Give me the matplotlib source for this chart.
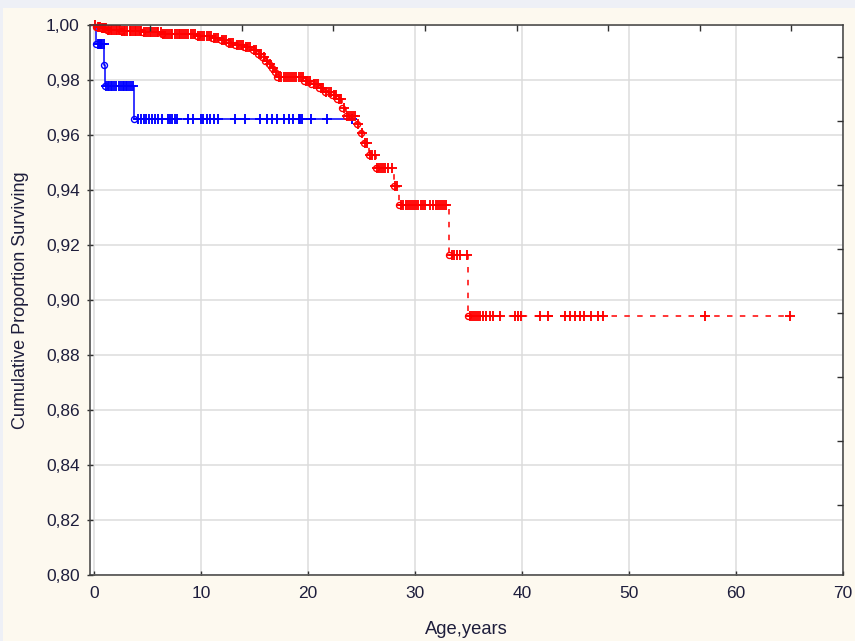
import matplotlib
matplotlib.use("Agg")
import matplotlib.pyplot as plt
from matplotlib.patches import Rectangle
from matplotlib.ticker import FixedLocator, FuncFormatter

plt.rcParams['font.family'] = ['Liberation Sans', 'DejaVu Sans']

# ---------------- data ----------------
# Group 1 (red): failure times and survival after each failure
red_fail_t = [0.2, 0.6, 1.2, 2.5, 4.5, 6.3, 9.6, 11.0, 11.8, 12.5, 13.2, 14.0, 14.8,
              15.3, 15.7, 16.0, 16.3, 16.6, 16.9, 17.1, 19.6, 20.3, 21.0, 21.6, 22.2,
              22.7, 23.2, 23.5, 24.6, 24.9, 25.2, 25.7, 26.3, 28.0, 28.5, 33.2, 34.9]
red_fail_s = [0.9994, 0.9988, 0.9983, 0.9978, 0.9973, 0.9966, 0.9959, 0.9952, 0.9944,
              0.9936, 0.9928, 0.9919, 0.9908, 0.9896, 0.9883, 0.9870, 0.9857, 0.9844,
              0.9830, 0.9810, 0.9797, 0.9784, 0.9771, 0.9758, 0.9745, 0.9732, 0.9700,
              0.9670, 0.9640, 0.9607, 0.9570, 0.9527, 0.9480, 0.9415, 0.9345, 0.9165,
              0.8942]
red_cens_t = [0.1, 0.3, 0.4, 0.5, 0.7, 0.8, 0.9, 1.0, 1.1, 1.3, 1.4, 1.6, 1.7, 1.8, 2.0,
              2.1, 2.3, 2.4, 2.6, 2.8, 2.9, 3.1, 3.3, 3.4, 3.6, 3.8, 3.9, 4.1, 4.3, 4.4,
              4.6, 4.8, 5.0, 5.2, 5.3, 5.5, 5.7, 5.9, 6.0, 6.2, 6.4, 6.6, 6.8, 7.0, 7.2,
              7.3, 7.5, 7.7, 7.9, 8.0, 8.2, 8.4, 8.6, 8.8, 9.0, 9.2, 9.4, 9.7, 9.9, 10.1,
              10.3, 10.5, 10.7, 10.9, 11.2, 11.4, 11.6, 11.9, 12.1, 12.3, 12.6, 12.8,
              13.0, 13.3, 13.5, 13.7, 13.9, 14.2, 14.4, 14.6, 14.9, 15.1, 15.4, 15.6,
              15.9, 16.1, 16.4, 16.7, 17.0, 17.3, 17.5, 17.7, 17.9, 18.1, 18.3, 18.5,
              18.7, 18.9, 19.1, 19.3, 19.5, 19.8, 20.0, 20.2, 20.5, 20.7, 20.9, 21.2,
              21.4, 21.7, 21.9, 22.1, 22.4, 22.6, 22.9, 23.1, 23.3, 23.6, 23.8, 24.0,
              24.2, 24.4, 24.7, 25.0, 25.3, 25.5, 25.8, 26.0, 26.2, 26.4, 26.6, 26.8,
              27.0, 27.2, 27.5, 27.8, 28.1, 28.3, 28.7, 28.9, 29.1, 29.3, 29.5, 29.7,
              29.9, 30.1, 30.3, 30.5, 30.7, 30.9, 31.4, 31.7, 31.9, 32.1, 32.3, 32.5,
              32.7, 32.9, 33.4, 33.6, 33.9, 34.2, 34.85, 35.1, 35.3, 35.5, 35.7, 35.9,
              36.1, 36.3, 36.6, 37.0, 37.3, 37.9, 39.3, 39.6, 39.9, 41.7, 42.4, 44.0,
              44.5, 44.9, 45.4, 45.8, 46.4, 47.1, 47.6, 57.1, 65.0]

# Group 2 (blue)
blue_fail_t = [0.2, 0.95, 1.0, 3.75]
blue_fail_s = [0.993, 0.9855, 0.9778, 0.966]
blue_cens_t = [0.3, 0.4, 0.5, 0.6, 0.7, 0.9, 1.1, 1.25, 1.4, 1.55, 1.7, 1.85, 2.0,
               2.35, 2.5, 2.65, 2.8, 2.95, 3.1, 3.25, 3.4, 3.65, 4.1, 4.4, 4.6, 4.85,
               5.1, 5.4, 5.7, 6.0, 6.3, 6.9, 7.1, 7.3, 7.5, 7.7, 8.8, 9.2, 10.0, 10.2,
               10.5, 10.8, 11.15, 11.6, 13.2, 14.1, 15.5, 16.1, 16.6, 17.1, 17.7, 18.2,
               18.6, 19.1, 19.25, 19.4, 20.3, 21.8, 24.1]

x_ticks = [0, 10, 20, 30, 40, 50, 60, 70]
y_ticks = [0.80, 0.82, 0.84, 0.86, 0.88, 0.90, 0.92, 0.94, 0.96, 0.98, 1.00]

RED = '#ff0000'
BLUE = '#0000ff'
TXT = '#1e1e3c'


def km_value(fail_t, fail_s, t):
    s = 1.0
    for ft, fs in zip(fail_t, fail_s):
        if ft <= t:
            s = fs
    return s


def draw_curve(ax, fail_t, fail_s, cens_t, color, ls, z):
    t_end = max(cens_t[-1], fail_t[-1])
    ts = [0.0] + list(fail_t) + [t_end]
    ss = [1.0] + list(fail_s) + [fail_s[-1]]
    line, = ax.plot(ts, ss, drawstyle='steps-post', color=color, lw=1.1,
                    zorder=z, clip_on=False)
    if ls == 'dash':
        line.set_dashes([3.6, 4.8])
    cs = [km_value(fail_t, fail_s, t) for t in cens_t]
    ax.plot(cens_t, cs, linestyle='none', marker='+', ms=7.5, mew=1.35,
            color=color, zorder=z + 0.1, clip_on=False)
    ax.plot(fail_t, fail_s, linestyle='none', marker='o', ms=4.3, mew=1.0,
            mfc='none', mec=color, zorder=z + 0.1, clip_on=False)


fig = plt.figure(figsize=(8.55, 6.41), dpi=100, facecolor='#fdf9ef')
fig.patches.append(Rectangle((0, 1 - 8 / 641), 1, 8 / 641, transform=fig.transFigure,
                             facecolor='#eef0f6', edgecolor='none', zorder=-5))
fig.patches.append(Rectangle((0, 0), 3 / 855, 1, transform=fig.transFigure,
                             facecolor='#eef0f6', edgecolor='none', zorder=-5))

ax = fig.add_axes([89.5 / 855, 1 - 575 / 641, 753.5 / 855, 550 / 641])
ax.set_facecolor('white')
ax.set_xlim(-0.45, 70)
ax.set_ylim(0.80, 1.00)

ax.xaxis.set_major_locator(FixedLocator(x_ticks))
ax.yaxis.set_major_locator(FixedLocator(y_ticks))
ax.yaxis.set_major_formatter(FuncFormatter(lambda v, p: f"{v:.2f}".replace('.', ',')))
ax.xaxis.set_major_formatter(FuncFormatter(lambda v, p: f"{v:.0f}"))
ax.grid(True, color='#dcdcdc', lw=1.1, zorder=0)
ax.set_axisbelow(True)

ax.tick_params(axis='x', direction='in', length=3, width=1.0, color='#303030',
               labelsize=12.5, labelcolor=TXT, pad=8)
ax.tick_params(axis='y', direction='inout', length=4, width=1.0, color='#303030',
               labelsize=12.5, labelcolor=TXT, pad=5)
for sp in ax.spines.values():
    sp.set_color('#404040')
    sp.set_linewidth(1.1)
    sp.set_zorder(5)

draw_curve(ax, blue_fail_t, blue_fail_s, blue_cens_t, BLUE, 'solid', 3)
draw_curve(ax, red_fail_t, red_fail_s, red_cens_t, RED, 'dash', 4)

# secondary (unlabelled) ticks on top and right edges
axt = ax.twiny()
axt.set_xlim(0, 1)
axt.set_xticks([0.0803 + k * 0.1216 for k in range(8)])
axt.tick_params(axis='x', direction='in', length=4, width=1.0, color='#303030',
                labeltop=False)
axr = ax.twinx()
axr.set_ylim(0, 1)
axr.set_yticks([0.9415 - k * 0.1164 for k in range(8)])
axr.tick_params(axis='y', direction='in', length=4, width=1.0, color='#303030',
                labelright=False)
for a in (axt, axr):
    for sp in a.spines.values():
        sp.set_visible(False)

fig.text(21 / 855, (641 - 300) / 641, 'Cumulative Proportion Surviving', rotation=90,
         ha='center', va='center', fontsize=13, color=TXT)
fig.text(466 / 855, (641 - 630) / 641, 'Age,years', ha='center', va='center',
         fontsize=13.2, color=TXT)

fig.savefig('out.png', dpi=100, facecolor=fig.get_facecolor())
